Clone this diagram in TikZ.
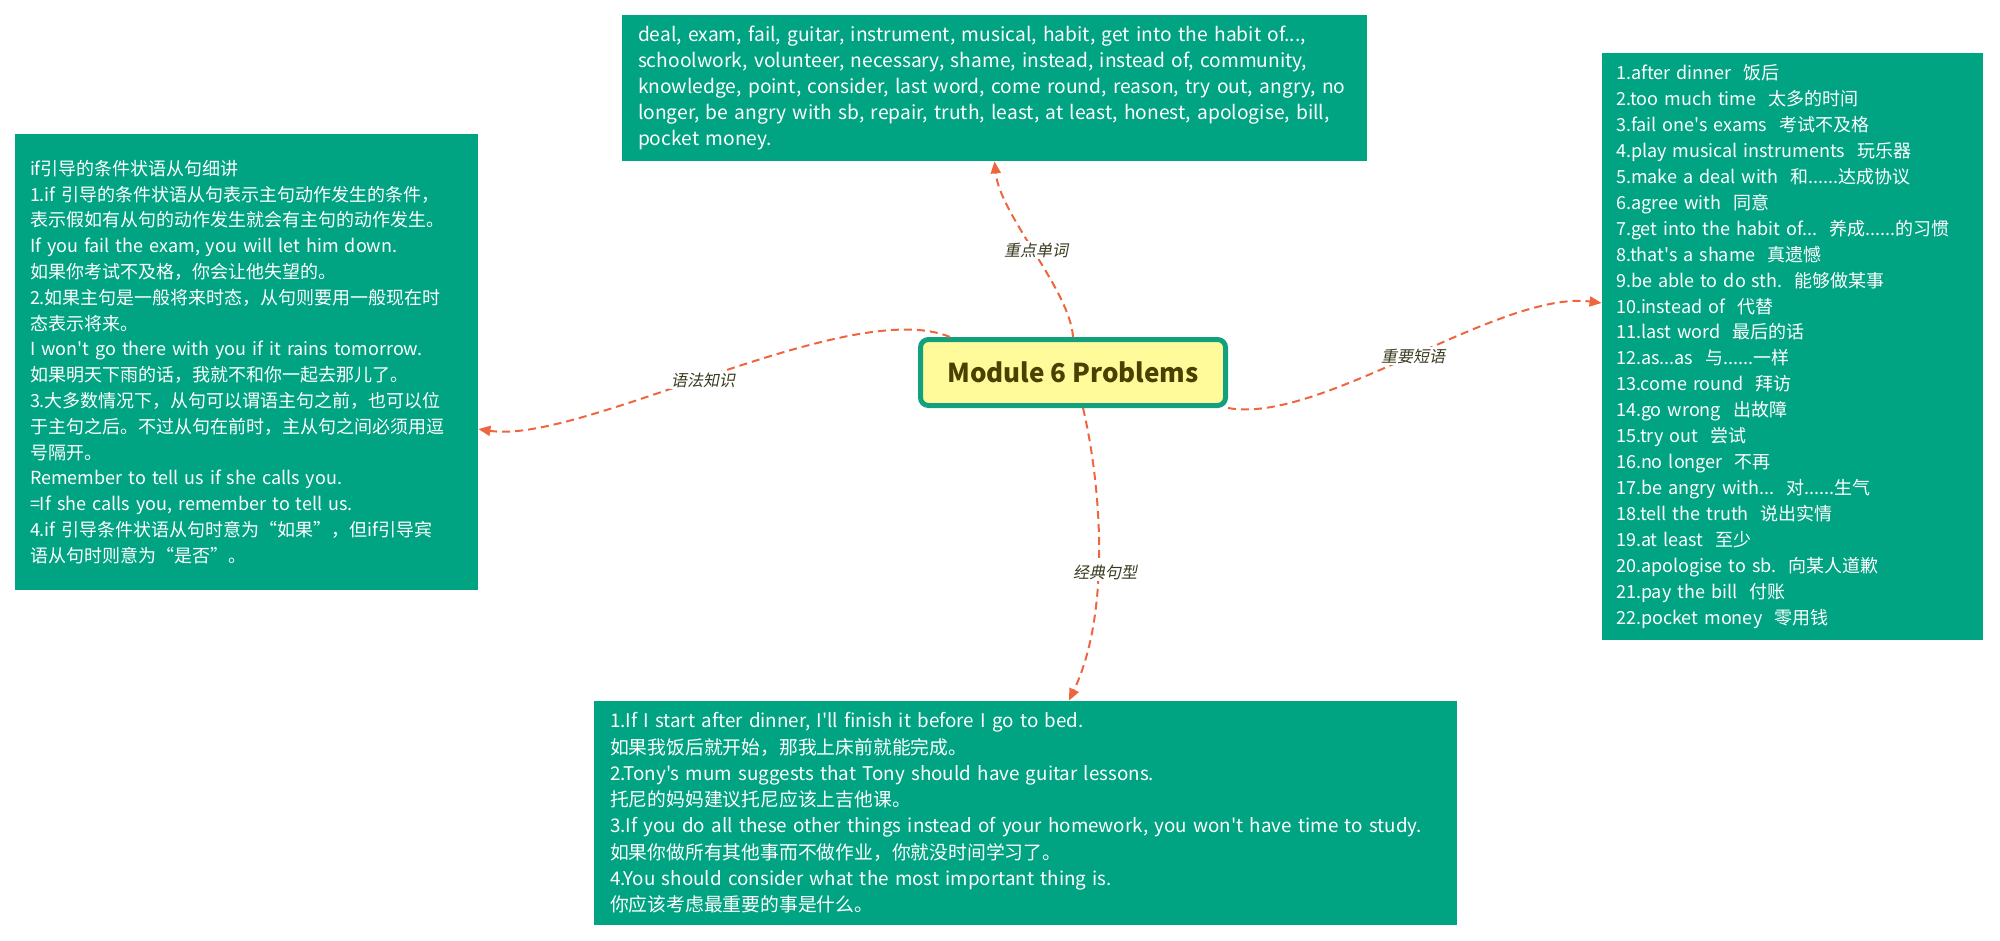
\documentclass[tikz,border=0pt]{standalone}
\usepackage{fontspec}
\setmainfont{Noto Sans CJK SC}[Ligatures=TeXOff]
\newfontfamily\lblfont[FakeSlant=0.2]{Noto Sans CJK SC}
\usetikzlibrary{arrows.meta}
\definecolor{teal1}{HTML}{00A382}
\definecolor{cfill}{HTML}{FFFB9A}
\definecolor{cborder}{HTML}{13A07F}
\definecolor{ctext}{HTML}{4A4000}
\definecolor{conn}{HTML}{EE6540}
\definecolor{lbl}{HTML}{3A3A20}
\begin{document}
\begin{tikzpicture}[x=0.5pt,y=-0.5pt,
  leaf/.style={fill=teal1, draw=none, text=white, align=left, inner ysep=0pt},
  link/.style={draw=conn, line width=1pt, dash pattern=on 4pt off 2.5pt, -{Triangle[length=6pt,width=5pt]}},
  lab/.style={fill=white, text=lbl, inner sep=1pt, font=\lblfont\fontsize{8}{9}\selectfont}]
\useasboundingbox (0,0) rectangle (2000,941);

\node[leaf, inner xsep=8pt, text width=356.5pt, minimum height=73pt, font=\fontsize{9.6}{13}\selectfont] (t) at (994.5,88) {deal, exam, fail, guitar, instrument, musical, habit, get into the habit of...,\\
schoolwork, volunteer, necessary, shame, instead, instead of, community,\\
knowledge, point, consider, last word, come round, reason, try out, angry, no\\
longer, be angry with sb, repair, truth, least, at least, honest, apologise, bill,\\
pocket money.};

\node[leaf, inner xsep=7.5pt, text width=216.5pt, minimum height=228pt, font=\fontsize{9}{12.9}\selectfont] (l) at (246.5,362) {if引导的条件状语从句细讲\\
1.if 引导的条件状语从句表示主句动作发生的条件，\\
表示假如有从句的动作发生就会有主句的动作发生。\\
If you fail the exam, you will let him down.\\
如果你考试不及格，你会让他失望的。\\
2.如果主句是一般将来时态，从句则要用一般现在时\\
态表示将来。\\
I won't go there with you if it rains tomorrow.\\
如果明天下雨的话，我就不和你一起去那儿了。\\
3.大多数情况下，从句可以谓语主句之前，也可以位\\
于主句之后。不过从句在前时，主从句之间必须用逗\\
号隔开。\\
Remember to tell us if she calls you.\\
=If she calls you, remember to tell us.\\
4.if 引导条件状语从句时意为“如果”，但if引导宾\\
语从句时则意为“是否”。};

\node[leaf, inner xsep=7pt, text width=176.5pt, minimum height=293.5pt, font=\fontsize{9}{12.97}\selectfont] (r) at (1792.5,346.5) {1.after dinner~~饭后\\
2.too much time~~太多的时间\\
3.fail one's exams~~考试不及格\\
4.play musical instruments~~玩乐器\\
5.make a deal with~~和......达成协议\\
6.agree with~~同意\\
7.get into the habit of...~~养成......的习惯\\
8.that's a shame~~真遗憾\\
9.be able to do sth.~~能够做某事\\
10.instead of~~代替\\
11.last word~~最后的话\\
12.as...as~~与......一样\\
13.come round~~拜访\\
14.go wrong~~出故障\\
15.try out~~尝试\\
16.no longer~~不再\\
17.be angry with...~~对......生气\\
18.tell the truth~~说出实情\\
19.at least~~至少\\
20.apologise to sb.~~向某人道歉\\
21.pay the bill~~付账\\
22.pocket money~~零用钱};

\node[leaf, inner xsep=8pt, text width=415.5pt, minimum height=112pt, font=\fontsize{9.4}{13.15}\selectfont] (b) at (1025.5,813) {1.If I start after dinner, I'll finish it before I go to bed.\\
如果我饭后就开始，那我上床前就能完成。\\
2.Tony's mum suggests that Tony should have guitar lessons.\\
托尼的妈妈建议托尼应该上吉他课。\\
3.If you do all these other things instead of your homework, you won't have time to study.\\
如果你做所有其他事而不做作业，你就没时间学习了。\\
4.You should consider what the most important thing is.\\
你应该考虑最重要的事是什么。};

\node[draw=cborder, line width=2.5pt, fill=cfill, rounded corners=4pt, minimum width=152.5pt, minimum height=33pt, inner sep=0pt, text=ctext, font=\bfseries\fontsize{13}{15}\selectfont] (c) at (1073,372.5) {Module 6 Problems};

\draw[link] (c.north) .. controls (1070,290) and (1000,215) .. (t.south);
\draw[link] ([xshift=16pt]c.north west) .. controls (850,295) and (580,445) .. ([yshift=-33.5pt]l.east);
\draw[link] (c.south east) .. controls (1320,425) and (1500,290) .. ([yshift=21.75pt]r.west);
\draw[link] ([xshift=5pt]c.south) .. controls (1100,480) and (1112,610) .. ([xshift=21.75pt]b.north);

\node[lab] (lt) at (1036,250) {重点单词};
\node[lab] (ll) at (703,380) {语法知识};
\node[lab] (lr) at (1413,356) {重要短语};
\node[lab] (lb) at (1105,572) {经典句型};
\end{tikzpicture}
\end{document}
